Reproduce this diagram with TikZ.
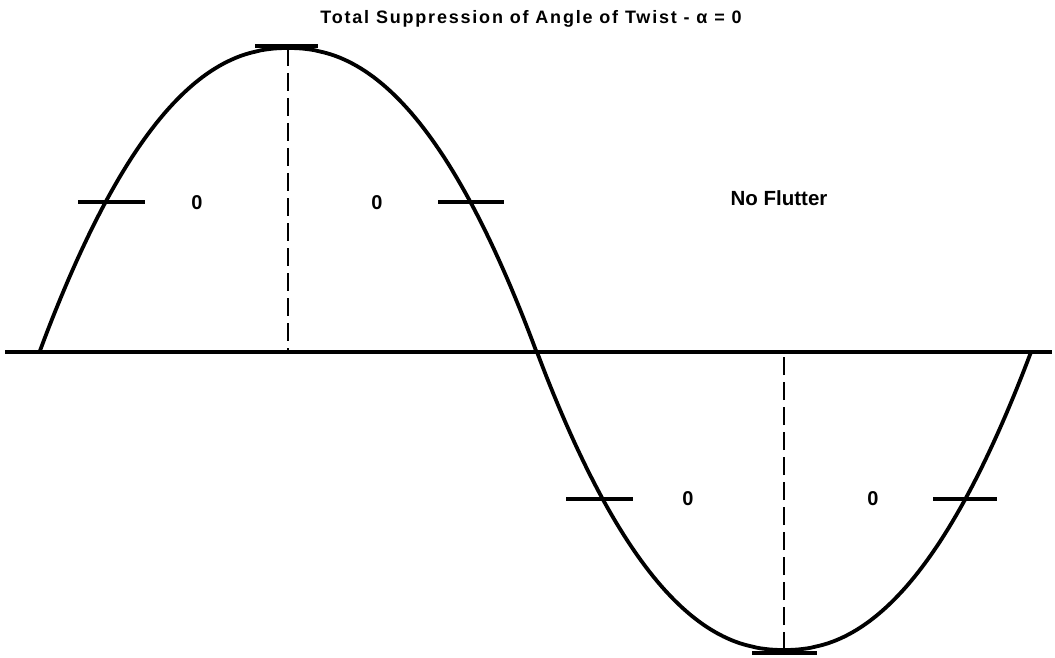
\documentclass[tikz,border=0pt]{standalone}
\usepackage{fontspec}
\setmainfont{Liberation Sans}
\newfontfamily\titlefont[LetterSpace=10]{Liberation Sans}
\usetikzlibrary{positioning}
\tikzset{
  curve/.style={line width=3.8pt, line join=round},
  axisline/.style={line width=4.5pt},
  tickmark/.style={line width=4pt},
  guide/.style={line width=2.8pt, dash pattern=on 18pt off 7pt},
  zerolabel/.style={font=\fontsize{20}{22}\selectfont\bfseries, inner sep=0pt},
  notelabel/.style={font=\fontsize{20.5}{22}\selectfont\bfseries, inner sep=0pt},
  titlelabel/.style={font=\titlefont\fontsize{18}{20}\selectfont\bfseries, inner sep=0pt}
}

\begin{document}
\begin{tikzpicture}[x=1pt, y=-1pt]
  \useasboundingbox (0,0) rectangle (1055,658);

  % axis and the two arches
  \coordinate (axisL) at (5,352);
  \coordinate (axisR) at (1052,352);
  \coordinate (peak) at (288,48);
  \coordinate (peakfoot) at (288,352);
  \coordinate (trough) at (784,650);
  \coordinate (troughfoot) at (784,352);

  \draw[axisline] (axisL) -- (axisR);
  \draw[curve] plot[domain=-1:1, samples=120] ({288+248.5*\x}, {352-304*(1-abs(\x)^2.2)})
    -- plot[domain=-1:1, samples=120] ({784+247*\x}, {352+298*(1-abs(\x)^2.2)});

  \draw[guide] (peak) -- (peakfoot);
  \draw[guide] (trough) -- (troughfoot);

  % short bars across the curve
  \draw[tickmark] (255,46) -- (318,46);
  \draw[tickmark] (752,653) -- (817,653);
  \draw[tickmark] (78,202) -- (145,202);
  \draw[tickmark] (438,202) -- (504,202);
  \draw[tickmark] (566,499) -- (633,499);
  \draw[tickmark] (933,499) -- (997,499);

  % labels
  \node[titlelabel] (title) at (531,19) {Total Suppression of Angle of Twist - α = 0};
  \node[zerolabel] (zeroA) at (197,203) {0};
  \node[zerolabel] (zeroB) at (377,203) {0};
  \node[zerolabel] (zeroC) at (688,499) {0};
  \node[zerolabel] (zeroD) at (873,499) {0};
  \node[notelabel] (note) at (779,198) {No Flutter};
\end{tikzpicture}
\end{document}
